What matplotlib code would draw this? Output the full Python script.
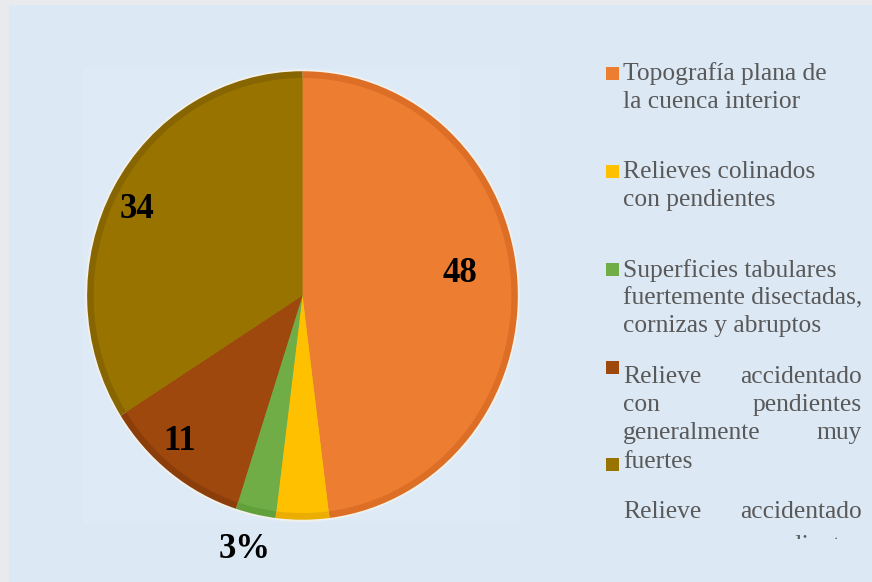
import matplotlib
matplotlib.use("Agg")
import matplotlib.pyplot as plt
from matplotlib.patches import Rectangle

# ---- data ----
categories = [
    "Topografía plana de la cuenca interior",
    "Relieves colinados con pendientes",
    "Superficies tabulares fuertemente disectadas, cornizas y abruptos",
    "Relieve accidentado con pendientes generalmente muy fuertes",
    "Relieve accidentado con pendientes",
]
values = [48, 4, 3, 11, 34]
colors = ["#ED7D31", "#FFC000", "#70AD47", "#9E480E", "#997300"]
rim_colors = ["#DC6E25", "#EBAE00", "#62A03C", "#8C3E0A", "#876500"]
data_labels = ["48", "", "3%", "11", "34"]

W, H = 872, 582
fig = plt.figure(figsize=(W / 100, H / 100), dpi=100, facecolor="#e8eaed")

# background layer in pixel coordinates
bg = fig.add_axes([0, 0, 1, 1])
bg.set_xlim(0, W)
bg.set_ylim(H, 0)
bg.axis("off")
bg.add_patch(Rectangle((9, 5), W - 9, H - 5, facecolor="#dce8f4", edgecolor="none", zorder=0))
bg.add_patch(Rectangle((83, 68), 437, 455, facecolor="#deebf7", edgecolor="none", zorder=0.5))

# pie axes
left, right, top, bottom = 85, 520, 69, 522
pax = fig.add_axes([left / W, (H - bottom) / H, (right - left) / W, (bottom - top) / H])
pax.pie(values, colors=["#f4f1ea"] * len(values), startangle=90, counterclock=False,
        radius=1.008, wedgeprops=dict(linewidth=0))
pax.pie(values, colors=rim_colors, startangle=90, counterclock=False, radius=1.0,
        wedgeprops=dict(linewidth=0))
pax.pie(values, colors=colors, startangle=90, counterclock=False, radius=0.97,
        wedgeprops=dict(linewidth=0))
pax.set_aspect("auto")
pax.set_xlim(-1.01, 1.01)
pax.set_ylim(-1.01, 1.01)
pax.axis("off")

# text layer on top
ov = fig.add_axes([0, 0, 1, 1])
ov.set_xlim(0, W)
ov.set_ylim(H, 0)
ov.axis("off")
ov.patch.set_alpha(0)

# data labels (pixel positions)
label_pos = [(460, 273), None, (245, 549), (180, 442), (137, 209)]
for lab, pos in zip(data_labels, label_pos):
    if lab and pos:
        ov.text(pos[0], pos[1], lab, ha="center", va="center", fontsize=25,
                fontweight="bold", family="Liberation Serif", color="black", zorder=5)

# legend
txt_kw = dict(fontsize=18.4, family="Liberation Serif", color="#595959", va="baseline", zorder=5)
tx = 623
rx = 862
# item 1
ov.add_patch(Rectangle((606, 67), 13, 13, facecolor=colors[0], edgecolor="none", zorder=5))
ov.text(tx, 80, "Topografía plana de", **txt_kw)
ov.text(tx, 108, "la cuenca interior", **txt_kw)
# item 2
ov.add_patch(Rectangle((606, 165), 13, 13, facecolor=colors[1], edgecolor="none", zorder=5))
ov.text(tx, 178, "Relieves colinados", **txt_kw)
ov.text(tx, 206, "con pendientes", **txt_kw)
# item 3
ov.add_patch(Rectangle((606, 263), 13, 13, facecolor=colors[2], edgecolor="none", zorder=5))
ov.text(tx, 277, "Superficies tabulares", **txt_kw)
ov.text(tx, 304, "fuertemente disectadas,", **txt_kw)
ov.text(tx, 332, "cornizas y abruptos", **txt_kw)
# item 4 (justified)
ov.add_patch(Rectangle((606, 361), 13, 13, facecolor=colors[3], edgecolor="none", zorder=5))
just_lines = [("Relieve", "accidentado", 383), ("con", "pendientes", 411),
              ("generalmente", "muy", 439)]
for a, b, y in just_lines:
    ov.text(tx, y, a, ha="left", **txt_kw)
    ov.text(rx, y, b, ha="right", **txt_kw)
ov.text(tx, 468, "fuertes", **txt_kw)
# item 5 marker + clipped text
ov.add_patch(Rectangle((606, 458), 13, 13, facecolor=colors[4], edgecolor="none", zorder=5))
clip = Rectangle((600, 0), 272, 539, transform=ov.transData)
for a, b, y in [("Relieve", "accidentado", 518), ("con", "pendientes", 552)]:
    t1 = ov.text(tx, y, a, ha="left", **txt_kw)
    t2 = ov.text(rx, y, b, ha="right", **txt_kw)
    for t in (t1, t2):
        t.set_clip_path(clip)
        t.set_clip_on(True)

fig.savefig("out.png", dpi=100, facecolor=fig.get_facecolor())
